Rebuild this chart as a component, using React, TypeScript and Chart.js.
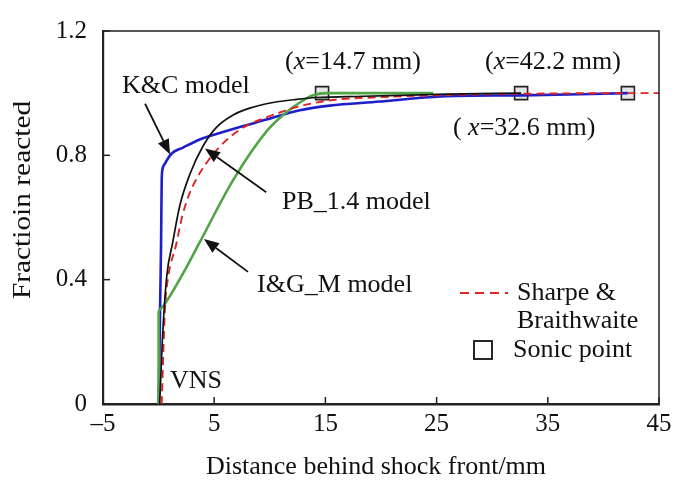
import React, { useEffect, useRef } from "react";
import { Chart, registerables } from "chart.js";

Chart.register(...registerables);

const FONT = "'Liberation Serif', 'Times New Roman', Times, serif";

// Axis ticks
const xTicks = [-5, 5, 15, 25, 35, 45];
const yTicks = [0, 0.4, 0.8, 1.2];

// K&C model (blue)
const kcX = [0, 0.22, 0.28, 0.35, 0.57, 1.18, 2.2, 3.7, 4.6, 6.7, 9.7, 12.7, 15.4, 19.9, 22.9, 25.9, 32.6, 42.2];
const kcY = [0, 0.51, 0.72, 0.755, 0.773, 0.806, 0.825, 0.851, 0.862, 0.885, 0.915, 0.945, 0.96, 0.973, 0.983, 0.99, 0.993, 1.0];

// PB_1.4 model (black)
const pbX = [0.1, 0.33, 0.73, 1.27, 1.92, 2.82, 4.0, 5.2, 6.7, 8.2, 10.3, 12.4, 14.2, 18.4, 25.9, 32.6];
const pbY = [0, 0.2, 0.41, 0.52, 0.64, 0.74, 0.83, 0.89, 0.93, 0.952, 0.97, 0.98, 0.986, 0.99, 0.997, 1.0];

// Sharpe & Braithwaite (red dashed)
const sbX = [0.28, 0.57, 0.87, 1.56, 2.1, 2.7, 3.5, 4.5, 5.5, 6.7, 8.0, 9.7, 12.4, 15.4, 19.9, 25.9, 32.6, 42.2, 45];
const sbY = [0, 0.304, 0.41, 0.51, 0.6, 0.67, 0.73, 0.785, 0.828, 0.867, 0.897, 0.922, 0.955, 0.977, 0.987, 0.994, 0.998, 1.0, 1.0];

// I&G_M model (green): vertical jump at the VNS, then the reaction zone
const igJumpX = [0, 0.005];
const igJumpY = [0, 0.3];
const igX = [0.005, 0.42, 2.2, 3.74, 6.7, 9.7, 11.2, 12.7, 13.9, 15.1, 24.7];
const igY = [0.3, 0.315, 0.42, 0.523, 0.72, 0.877, 0.93, 0.97, 0.993, 1.0, 1.0];

// Sonic points
const sonicX = [14.7, 32.6, 42.2];
const sonicY = [1.0, 1.0, 1.0];

const pts = (xs: number[], ys: number[]) => xs.map((x, i) => ({ x, y: ys[i] as number | null }));

const fmtX = (v: number) => (v < 0 ? "\u2013" + Math.abs(v) : String(v));
const fmtY = (v: number) => (v === 0 ? "0" : v.toFixed(1));

function arrow(ctx: CanvasRenderingContext2D, x0: number, y0: number, x1: number, y1: number) {
  const ang = Math.atan2(y1 - y0, x1 - x0);
  const hl = 15, hw = 6;
  const bx = x1 - hl * Math.cos(ang), by = y1 - hl * Math.sin(ang);
  ctx.strokeStyle = "#111";
  ctx.fillStyle = "#111";
  ctx.lineWidth = 1.8;
  ctx.setLineDash([]);
  ctx.beginPath();
  ctx.moveTo(x0, y0);
  ctx.lineTo(bx, by);
  ctx.stroke();
  ctx.beginPath();
  ctx.moveTo(x1, y1);
  ctx.lineTo(bx + hw * Math.sin(ang), by - hw * Math.cos(ang));
  ctx.lineTo(bx - hw * Math.sin(ang), by + hw * Math.cos(ang));
  ctx.closePath();
  ctx.fill();
}

function richText(ctx: CanvasRenderingContext2D, parts: [string, boolean][], x: number, y: number, size: number) {
  let cx = x;
  for (const [t, it] of parts) {
    ctx.font = `${it ? "italic " : ""}${size}px ${FONT}`;
    ctx.fillText(t, cx, y);
    cx += ctx.measureText(t).width;
  }
}

const overlay = {
  id: "overlay",
  afterDraw(chart: any) {
    const { ctx, chartArea: a, scales } = chart;
    const xs = scales.x, ys = scales.y;
    const P = (xd: number, yd: number): [number, number] => [xs.getPixelForValue(xd), ys.getPixelForValue(yd)];
    ctx.save();
    // top & right frame
    ctx.strokeStyle = "#222";
    ctx.lineWidth = 1.5;
    ctx.beginPath();
    ctx.moveTo(a.left, a.top);
    ctx.lineTo(a.right, a.top);
    ctx.lineTo(a.right, a.bottom);
    ctx.stroke();
    // inward ticks
    ctx.lineWidth = 1.5;
    ctx.strokeStyle = "#222";
    for (const v of xTicks) {
      const px = xs.getPixelForValue(v);
      ctx.beginPath();
      ctx.moveTo(px, a.bottom);
      ctx.lineTo(px, a.bottom - 7);
      ctx.stroke();
    }
    for (const v of yTicks) {
      const py = ys.getPixelForValue(v);
      ctx.beginPath();
      ctx.moveTo(a.left, py);
      ctx.lineTo(a.left + 7, py);
      ctx.stroke();
    }
    // annotations
    ctx.fillStyle = "#111";
    ctx.textAlign = "left";
    ctx.textBaseline = "middle";
    const S = 26;
    ctx.font = `${S}px ${FONT}`;
    let p = P(-3.29, 1.022);
    ctx.fillText("K&C model", p[0], p[1]);
    p = P(11.1, 0.65);
    ctx.fillText("PB_1.4 model", p[0], p[1]);
    p = P(8.86, 0.381);
    ctx.fillText("I&G_M model", p[0], p[1]);
    p = P(1.02, 0.075);
    ctx.fillText("VNS", p[0], p[1]);
    p = P(11.37, 1.1);
    richText(ctx, [["(", false], ["x", true], ["=14.7 mm)", false]], p[0], p[1], S);
    p = P(29.35, 1.1);
    richText(ctx, [["(", false], ["x", true], ["=42.2 mm)", false]], p[0], p[1], S);
    p = P(26.47, 0.8875);
    richText(ctx, [["( ", false], ["x", true], ["=32.6 mm)", false]], p[0], p[1], S);

    // arrows
    let s = P(-1.22, 0.966), e = P(1.03, 0.803);
    arrow(ctx, s[0], s[1], e[0], e[1]);
    s = P(9.68, 0.681); e = P(4.17, 0.822);
    arrow(ctx, s[0], s[1], e[0], e[1]);
    s = P(8.04, 0.425); e = P(4.08, 0.531);
    arrow(ctx, s[0], s[1], e[0], e[1]);

    // legend
    ctx.strokeStyle = "#e02424";
    ctx.lineWidth = 1.8;
    ctx.setLineDash([9, 6]);
    ctx.beginPath();
    ctx.moveTo(460, 293);
    ctx.lineTo(508, 293);
    ctx.stroke();
    ctx.setLineDash([]);
    ctx.fillStyle = "#111";
    ctx.font = `${S}px ${FONT}`;
    ctx.fillText("Sharpe &", 517, 293);
    ctx.fillText("Braithwaite", 517, 321);
    ctx.fillStyle = "#fff";
    ctx.strokeStyle = "#111";
    ctx.lineWidth = 1.8;
    ctx.fillRect(474, 341, 18, 18);
    ctx.strokeRect(474, 341, 18, 18);
    ctx.fillStyle = "#111";
    ctx.fillText("Sonic point", 513, 350);

    // axis titles
    ctx.textAlign = "center";
    ctx.fillText("Distance behind shock front/mm", 376, 467);
    ctx.translate(23, 200);
    ctx.rotate(-Math.PI / 2);
    ctx.scale(1.13, 1);
    ctx.fillText("Fractioin reacted", 0, 0);
    ctx.restore();
  },
};

export default function App() {
  const ref = useRef<HTMLCanvasElement>(null);
  useEffect(() => {
    if (!ref.current) return;
    const line = (label: string, data: any[], color: string, width: number, dash: number[] = [], mode: any = "monotone") => ({
      type: "line" as const,
      label,
      data,
      borderColor: color,
      backgroundColor: color,
      borderWidth: width,
      borderDash: dash,
      pointRadius: 0,
      fill: false,
      tension: 0,
      cubicInterpolationMode: mode,
    });
    const chart = new Chart(ref.current, {
      type: "line",
      data: {
        datasets: [
          line("PB_1.4 model", pts(pbX, pbY), "#111111", 1.7),
          line("Sharpe & Braithwaite", pts(sbX, sbY), "#e02424", 1.9, [8, 5]),
          line("I&G_M model (jump)", pts(igJumpX, igJumpY), "#52a447", 2.6, [], "default"),
          line("I&G_M model", pts(igX, igY), "#52a447", 2.6),
          line("K&C model", pts(kcX, kcY), "#1f1fc8", 2.6),
          {
            type: "scatter" as const,
            label: "Sonic point",
            data: pts(sonicX, sonicY),
            pointStyle: "rect",
            pointRadius: 9.2,
            pointBackgroundColor: "#e6e6e6",
            pointBorderColor: "#222",
            pointBorderWidth: 1.6,
            showLine: false,
          } as any,
        ],
      },
      options: {
        responsive: false,
        animation: false,
        events: [],
        layout: { padding: { top: 20, right: 31, left: 0, bottom: 0 }, autoPadding: false } as any,
        plugins: { legend: { display: false }, tooltip: { enabled: false } },
        scales: {
          x: {
            type: "linear",
            min: -5,
            max: 45,
            afterBuildTicks: (sc: any) => {
              sc.ticks = xTicks.map((v) => ({ value: v }));
            },
            afterFit: (sc: any) => {
              sc.height = 77;
            },
            grid: { display: false, drawTicks: false },
            border: { display: true, color: "#222", width: 2.5 },
            ticks: {
              padding: 5,
              color: "#111",
              font: { family: FONT, size: 25 },
              callback: (v: any) => fmtX(Number(v)),
            },
          },
          y: {
            type: "linear",
            min: 0,
            max: 1.2,
            afterBuildTicks: (sc: any) => {
              sc.ticks = yTicks.map((v) => ({ value: v }));
            },
            afterFit: (sc: any) => {
              sc.width = 103;
            },
            grid: { display: false, drawTicks: false },
            border: { display: true, color: "#222", width: 2.2 },
            ticks: {
              padding: 16,
              color: "#111",
              font: { family: FONT, size: 25 },
              callback: (v: any) => fmtY(Number(v)),
            },
          },
        },
      },
      plugins: [overlay],
    });
    return () => chart.destroy();
  }, []);
  return (
    <div style={{ position: "fixed", left: 0, top: 0, width: 690, height: 481, background: "#fff" }}>
      <canvas ref={ref} width={690} height={481} style={{ display: "block" }} />
    </div>
  );
}
